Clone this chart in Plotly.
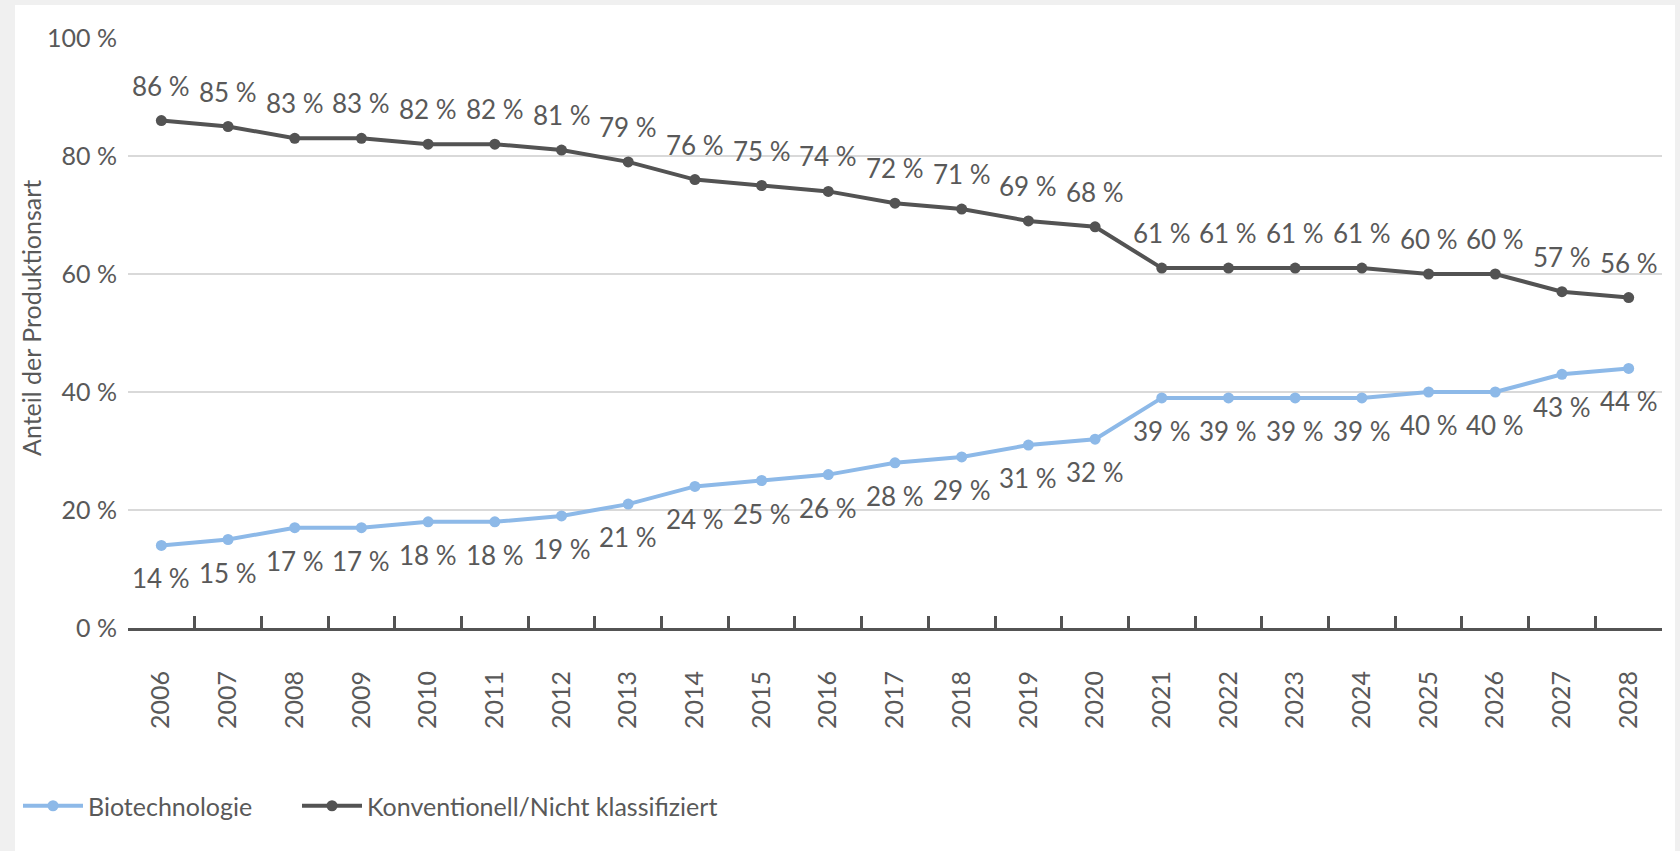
import plotly.graph_objects as go

years = [str(y) for y in range(2006, 2029)]
biotech = [14, 15, 17, 17, 18, 18, 19, 21, 24, 25, 26, 28, 29, 31, 32, 39, 39, 39, 39, 40, 40, 43, 44]
konventionell = [86, 85, 83, 83, 82, 82, 81, 79, 76, 75, 74, 72, 71, 69, 68, 61, 61, 61, 61, 60, 60, 57, 56]
y_ticks = [0, 20, 40, 60, 80, 100]
y_tick_text = [f"{v} %" for v in y_ticks]

BLUE = "#8DB9E8"
DARK = "#535353"
TXT = "#595959"
FONT = "Lato"
FS = 26

W, H = 1680, 851
ML, MR, MT, MB = 128, 18, 38, 223
PW = W - ML - MR
PH = H - MT - MB


def px_x(p):
    return (p - ML) / PW


def px_y(p):
    return (H - MB - p) / PH


fig = go.Figure()
fig.add_trace(go.Scatter(
    x=years, y=biotech, name="Biotechnologie", mode="lines+markers",
    line=dict(color=BLUE, width=4), marker=dict(color=BLUE, size=11),
    legend="legend",
))
fig.add_trace(go.Scatter(
    x=years, y=konventionell, name="Konventionell/Nicht klassifiziert", mode="lines+markers",
    line=dict(color=DARK, width=4), marker=dict(color=DARK, size=11),
    legend="legend2",
))

annotations = []
for i, v in enumerate(biotech):
    annotations.append(dict(x=i, y=v, xref="x", yref="y", text=f"{v} %", showarrow=False,
                            yshift=-33, font=dict(family=FONT, size=FS, color=TXT)))
for i, v in enumerate(konventionell):
    annotations.append(dict(x=i, y=v, xref="x", yref="y", text=f"{v} %", showarrow=False,
                            yshift=35, font=dict(family=FONT, size=FS, color=TXT)))
annotations.append(dict(x=px_x(31), y=px_y(318), xref="paper", yref="paper",
                        text="Anteil der Produktionsart", textangle=-90, showarrow=False,
                        xanchor="center", yanchor="middle",
                        font=dict(family=FONT, size=FS - 1, color=TXT)))

legend_common = dict(orientation="h", xanchor="left", yanchor="middle",
                     font=dict(family=FONT, size=FS - 1, color=TXT),
                     bgcolor="rgba(0,0,0,0)", itemwidth=60)

fig.update_layout(
    width=W, height=H,
    margin=dict(l=ML, r=MR, t=MT, b=MB, autoexpand=False),
    paper_bgcolor="#F0F0F0",
    plot_bgcolor="rgba(0,0,0,0)",
    font=dict(family=FONT, size=FS, color=TXT),
    showlegend=True,
    legend=dict(x=px_x(18), y=px_y(806), **legend_common),
    legend2=dict(x=px_x(297), y=px_y(806), **legend_common),
    annotations=annotations,
    shapes=[dict(type="rect", xref="paper", yref="paper",
                 x0=px_x(15), x1=px_x(1675), y0=px_y(851), y1=px_y(5),
                 fillcolor="white", line=dict(width=0), layer="below")],
)
fig.update_xaxes(
    type="category", range=[-0.5, len(years) - 0.5],
    tickson="boundaries", ticks="inside", ticklen=12, tickwidth=3, tickcolor=DARK,
    showline=True, linewidth=3, linecolor=DARK, showgrid=False,
    tickangle=-90, ticklabelstandoff=30,
    tickfont=dict(family=FONT, size=FS - 1, color=TXT),
)
fig.update_yaxes(
    range=[0, 100], tickvals=y_ticks, ticktext=y_tick_text,
    showgrid=True, gridcolor="#D9D9D9", gridwidth=2, zeroline=False,
    showline=False, ticks="", ticklabelstandoff=10,
    tickfont=dict(family=FONT, size=FS - 1, color=TXT),
)

fig.write_html("out.html", config={"displayModeBar": False},
               post_script="document.body.style.margin='0';")
